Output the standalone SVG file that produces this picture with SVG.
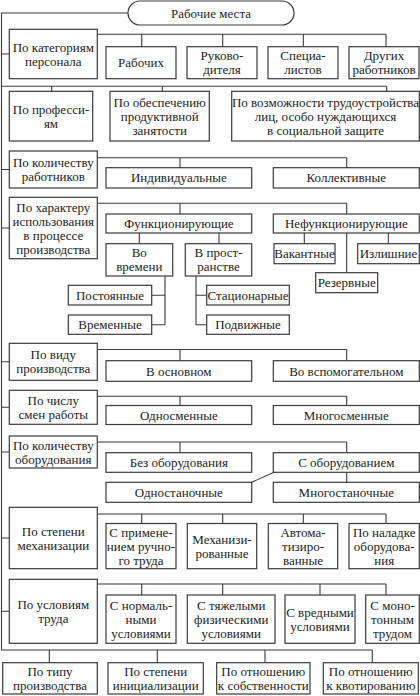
<svg xmlns="http://www.w3.org/2000/svg" width="420" height="696" viewBox="0 0 420 696">
<style>
rect{fill:#fff;stroke:#3a3a3a;stroke-width:1.2}
text{font-family:"Liberation Serif","Times New Roman",serif;font-size:13px;fill:#222;text-anchor:middle}
#connectors path{fill:none;stroke:#3a3a3a;stroke-width:1.1}
</style>
<g id="connectors">
<path d="M128,13 H1.5 V650 H372.3 M49.3,650 V662.7 M157.3,650 V662.7 M265,650 V662.7 M372.3,650 V662.7"/>
<path d="M1.5,54 H9.3 M1.5,169.5 H9.3 M1.5,228 H9.3 M1.5,361.8 H9.3 M1.5,407.3 H9.3 M1.5,452 H9.3 M1.5,538 H9.3 M1.5,611.3 H9.3"/>
<path d="M97.3,34.3 H386 M141.7,34.3 V46.7 M222.7,34.3 V46.7 M303.3,34.3 V46.7 M386,34.3 V46.7"/>
<path d="M1.5,86.3 H386.7 M51.7,86.3 V91.3 M162.3,86.3 V91.3 M386.7,86.3 V91.3"/>
<path d="M97.3,157.7 H346.7 M180,157.7 V167.7 M346.7,157.7 V167.7"/>
<path d="M97.3,203.3 H346.7 M180,203.3 V214 M346.7,203.3 V214"/>
<path d="M139.3,233 V243.7 M219,233 V243.7 M304.3,233 V243.7 M388.3,233 V243.7 M346.7,233 V272.7"/>
<path d="M165,276 V324.7 M151.7,295.2 H165 M151.7,324.7 H165"/>
<path d="M196,276 V324.7 M196,295.2 H206.7 M196,324.7 H206.7"/>
<path d="M97.3,349.5 H346.7 M180,349.5 V360.7 M346.7,349.5 V360.7"/>
<path d="M97.3,396.3 H346.7 M180,396.3 V405.5 M346.7,396.3 V405.5"/>
<path d="M97.3,442 H346.7 M180,442 V452.7 M346.7,442 V452.7"/>
<path d="M274,472.3 L251.7,482.3 M346.7,472.3 V482.3"/>
<path d="M97.3,514 H386 M141.7,514 V523.5 M222.7,514 V523.5 M303.3,514 V523.5 M386,514 V523.5"/>
<path d="M97.3,584 H386 M141.7,584 V595 M222.7,584 V595 M320,584 V595 M386,584 V595"/>
</g>
<g id="root"><rect x="128" y="1" width="166" height="24" rx="12"/><text x="211" y="17.5">Рабочие места</text></g>

<g id="cat-personnel"><rect x="9.3" y="29.3" width="88" height="49.4"/><text x="53.3" y="51.5">По категориям</text><text x="53.3" y="65.5">персонала</text></g>
<g id="workers"><rect x="106" y="46.7" width="70" height="32"/><text x="141" y="67.2">Рабочих</text></g>
<g id="managers"><rect x="187" y="46.7" width="70" height="32"/><text x="222" y="60.2">Руково-</text><text x="222" y="74.2">дителя</text></g>
<g id="specialists"><rect x="268" y="46.7" width="70" height="32"/><text x="303" y="60.2">Специа-</text><text x="303" y="74.2">листов</text></g>
<g id="others"><rect x="349" y="46.7" width="70" height="32"/><text x="384" y="60.2">Других</text><text x="384" y="74.2">работников</text></g>

<g id="by-profession"><rect x="9.3" y="91.3" width="83.4" height="49.7"/><text x="51" y="113.7">По професси-</text><text x="51" y="127.7">ям</text></g>
<g id="employment"><rect x="110" y="91.3" width="99.3" height="49.7"/><text x="159.7" y="106.7">По обеспечению</text><text x="159.7" y="120.7">продуктивной</text><text x="159.7" y="134.7">занятости</text></g>
<g id="social"><rect x="231.7" y="91.3" width="187.6" height="49.7"/><text x="325.5" y="106.7">По возможности трудоустройства</text><text x="325.5" y="120.7">лиц, особо нуждающихся</text><text x="325.5" y="134.7">в социальной защите</text></g>

<g id="cat-count"><rect x="9.3" y="151" width="88" height="37"/><text x="53.3" y="167">По количеству</text><text x="53.3" y="181">работников</text></g>
<g id="individual"><rect x="106" y="167.7" width="145.7" height="20.3"/><text x="178.8" y="182.3">Индивидуальные</text></g>
<g id="collective"><rect x="273.3" y="167.7" width="146" height="20.3"/><text x="346.3" y="182.3">Коллективные</text></g>

<g id="cat-usage"><rect x="9.3" y="197.3" width="88" height="61.4"/><text x="53.3" y="211.5">По характеру</text><text x="53.3" y="225.5">использования</text><text x="53.3" y="239.5">в процессе</text><text x="53.3" y="253.5">производства</text></g>
<g id="functioning"><rect x="106" y="214" width="145.7" height="19"/><text x="178.8" y="228">Функционирующие</text></g>
<g id="nonfunctioning"><rect x="273.3" y="214" width="146" height="19"/><text x="346.3" y="228">Нефункционирующие</text></g>
<g id="in-time"><rect x="106" y="243.7" width="66.7" height="32.3"/><text x="139.3" y="257.3">Во</text><text x="139.3" y="271.3">времени</text></g>
<g id="in-space"><rect x="185.3" y="243.7" width="66.4" height="32.3"/><text x="218.5" y="257.3">В прост-</text><text x="218.5" y="271.3">ранстве</text></g>
<g id="vacant"><rect x="274" y="243.7" width="61" height="20"/><text x="304.5" y="258.2">Вакантные</text></g>
<g id="surplus"><rect x="357.7" y="243.7" width="61.6" height="20"/><text x="388.5" y="258.2">Излишние</text></g>
<g id="reserve"><rect x="315.7" y="272.7" width="62" height="20"/><text x="346.7" y="287.2">Резервные</text></g>
<g id="permanent"><rect x="68.3" y="285.3" width="83.4" height="19.7"/><text x="110" y="299.7">Постоянные</text></g>
<g id="temporary"><rect x="68.3" y="315" width="83.4" height="19.3"/><text x="110" y="329.2">Временные</text></g>
<g id="stationary"><rect x="206.7" y="285.3" width="82.6" height="19.7"/><text x="248" y="299.7">Стационарные</text></g>
<g id="mobile"><rect x="206.7" y="315" width="82.6" height="19.3"/><text x="248" y="329.2">Подвижные</text></g>

<g id="cat-production"><rect x="9.3" y="343.3" width="88" height="37"/><text x="53.3" y="359.3">По виду</text><text x="53.3" y="373.3">производства</text></g>
<g id="main"><rect x="106" y="360.7" width="145.7" height="20.6"/><text x="178.8" y="375.5">В основном</text></g>
<g id="auxiliary"><rect x="273.3" y="360.7" width="146" height="20.6"/><text x="346.3" y="375.5">Во вспомогательном</text></g>

<g id="cat-shifts"><rect x="9.3" y="390.3" width="88" height="34"/><text x="53.3" y="404.8">По числу</text><text x="53.3" y="418.8">смен работы</text></g>
<g id="single-shift"><rect x="106" y="405.5" width="145.7" height="19"/><text x="178.8" y="419.5">Односменные</text></g>
<g id="multi-shift"><rect x="273.3" y="405.5" width="146" height="19"/><text x="346.3" y="419.5">Многосменные</text></g>

<g id="cat-equipment"><rect x="9.3" y="436" width="88" height="32"/><text x="53.3" y="449.5">По количеству</text><text x="53.3" y="463.5">оборудования</text></g>
<g id="no-equipment"><rect x="106" y="452.7" width="145.7" height="19.6"/><text x="178.8" y="467">Без оборудования</text></g>
<g id="with-equipment"><rect x="273.3" y="452.7" width="146" height="19.6"/><text x="346.3" y="467">С оборудованием</text></g>
<g id="single-machine"><rect x="106" y="482.3" width="145.7" height="20"/><text x="178.8" y="496.8">Одностаночные</text></g>
<g id="multi-machine"><rect x="273.3" y="482.3" width="146" height="20"/><text x="346.3" y="496.8">Многостаночные</text></g>

<g id="cat-mechanization"><rect x="9.3" y="507.3" width="88" height="61.4"/><text x="53.3" y="535.5">По степени</text><text x="53.3" y="549.5">механизации</text></g>
<g id="manual"><rect x="106" y="523.5" width="70" height="45.2"/><text x="141" y="537">С примене-</text><text x="141" y="551">нием ручно-</text><text x="141" y="565">го труда</text></g>
<g id="mechanized"><rect x="187.3" y="523.5" width="69.4" height="45.2"/><text x="222" y="544">Механизи-</text><text x="222" y="558">рованные</text></g>
<g id="automated"><rect x="268.3" y="523.5" width="69.4" height="45.2"/><text x="303" y="537">Автома-</text><text x="303" y="551">тизиро-</text><text x="303" y="565">ванные</text></g>
<g id="setup"><rect x="349" y="523.5" width="70.3" height="45.2"/><text x="384.2" y="537">По наладке</text><text x="384.2" y="551">оборудова-</text><text x="384.2" y="565">ния</text></g>

<g id="cat-conditions"><rect x="9.3" y="579.3" width="88" height="64"/><text x="53.3" y="608.8">По условиям</text><text x="53.3" y="622.8">труда</text></g>
<g id="normal"><rect x="106" y="595" width="70" height="48.3"/><text x="141" y="609.5">С нормаль-</text><text x="141" y="623.5">ными</text><text x="141" y="637.5">условиями</text></g>
<g id="heavy"><rect x="187.3" y="595" width="87.7" height="48.3"/><text x="231.2" y="609.5">С тяжелыми</text><text x="231.2" y="623.5">физическими</text><text x="231.2" y="637.5">условиями</text></g>
<g id="harmful"><rect x="285" y="595" width="70" height="48.3"/><text x="320" y="616.5">С вредными</text><text x="320" y="630.5">условиями</text></g>
<g id="monotonous"><rect x="365.7" y="595" width="53.6" height="48.3"/><text x="392.5" y="609.5">С моно-</text><text x="392.5" y="623.5">тонным</text><text x="392.5" y="637.5">трудом</text></g>

<g id="by-type"><rect x="2.7" y="662.7" width="94.6" height="31.3"/><text x="50" y="675.9">По типу</text><text x="50" y="689.9">производства</text></g>
<g id="by-initialization"><rect x="108" y="662.7" width="95.3" height="31.3"/><text x="155.7" y="675.9">По степени</text><text x="155.7" y="689.9">инициализации</text></g>
<g id="by-ownership"><rect x="216.7" y="662.7" width="93.3" height="31.3"/><text x="263.3" y="675.9">По отношению</text><text x="263.3" y="689.9">к собственности</text></g>
<g id="by-quota"><rect x="323.3" y="662.7" width="95" height="31.3"/><text x="370.8" y="675.9">По отношению</text><text x="370.8" y="689.9">к квотированию</text></g>
</svg>
